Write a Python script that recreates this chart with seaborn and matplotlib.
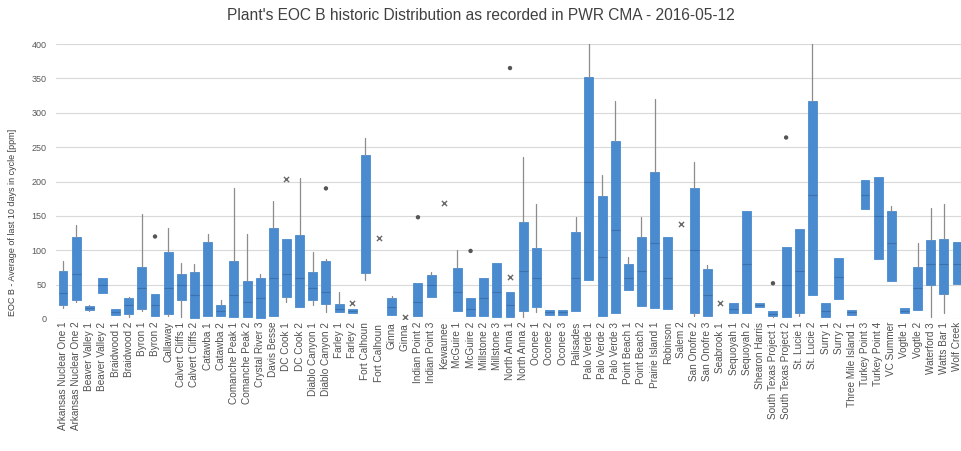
import matplotlib
matplotlib.use("Agg")
import matplotlib.pyplot as plt
import seaborn as sns
import pandas as pd

plants = [
    "Arkansas Nuclear One 1", "Arkansas Nuclear One 2", "Beaver Valley 1", "Beaver Valley 2",
    "Braidwood 1", "Braidwood 2", "Byron 1", "Byron 2", "Callaway", "Calvert Cliffs 1",
    "Calvert Cliffs 2", "Catawba 1", "Catawba 2", "Comanche Peak 1", "Comanche Peak 2",
    "Crystal River 3", "Davis Besse", "DC Cook 1", "DC Cook 2", "Diablo Canyon 1",
    "Diablo Canyon 2", "Farley 1", "Farley 2", "Fort Calhoun", "Fort Calhoun ",
    "Ginna", "Ginna ", "Indian Point 2", "Indian Point 3", "Kewaunee", "McGuire 1",
    "McGuire 2", "Millstone 2", "Millstone 3", "North Anna 1", "North Anna 2", "Oconee 1",
    "Oconee 2", "Oconee 3", "Palisades", "Palo Verde 1", "Palo Verde 2", "Palo Verde 3",
    "Point Beach 1", "Point Beach 2", "Prairie Island 1", "Robinson", "Salem 2",
    "San Onofre 2", "San Onofre 3", "Seabrook 1", "Sequoyah 1", "Sequoyah 2",
    "Shearon Harris", "South Texas Project 1", "South Texas Project 2", "St. Lucie 1",
    "St. Lucie 2", "Surry 1", "Surry 2", "Three Mile Island 1", "Turkey Point 3",
    "Turkey Point 4", "VC Summer", "Vogtle 1", "Vogtle 2", "Waterford 3", "Watts Bar 1",
    "Wolf Creek",
]

# five-number summaries (ppm); None where the plant has a single value only
whisker_low = [16, 25, 12, 38, 6, 3, 12, 5, 5, 3, 2, 5, 5, 3, 3, 2, 5, 25, 18, 20, 10, 10, 9,
               57, None, 6, None, 4, 32, None, 12, 4, 4, 3, 3, 3, 10, 6, 6, 12, 57, 5, 9, 42,
               19, 16, 15, None, 5, 5, None, 9, 9, 17, 3, 3, 5, 35, 3, 29, 6, 160, 87, 56, 9,
               13, 3, 9, 51]
q1 = [20, 28, 13, 38, 6, 8, 14, 5, 8, 28, 2, 5, 5, 3, 3, 2, 5, 32, 18, 28, 22, 10, 9,
      67, None, 6, None, 4, 32, None, 12, 4, 4, 3, 3, 12, 17, 6, 6, 12, 57, 5, 9, 42,
      19, 16, 15, None, 9, 5, None, 9, 9, 17, 4, 3, 9, 35, 3, 29, 6, 160, 87, 56, 9,
      13, 49, 37, 51]
median = [38, 65, 16, 50, 10, 20, 45, 20, 45, 50, 35, 50, 12, 35, 25, 30, 60, 65, 60, 45, 40, 15, 12,
          150, None, 18, None, 25, 50, None, 40, 15, 30, 40, 20, 70, 60, 10, 10, 60, 200, 90, 130, 60,
          70, 110, 60, None, 100, 35, None, 15, 80, 20, 7, 50, 70, 180, 12, 61, 10, 180, 150, 110, 12,
          45, 80, 80, 80]
q3 = [70, 120, 19, 60, 15, 30, 75, 37, 97, 65, 68, 112, 20, 85, 55, 60, 132, 117, 122, 68, 85, 22, 15,
      238, None, 31, None, 52, 64, None, 74, 31, 60, 81, 39, 141, 103, 13, 13, 127, 352, 179, 259, 80,
      120, 214, 120, None, 191, 73, None, 23, 157, 24, 11, 105, 131, 317, 24, 89, 13, 202, 206, 157, 16,
      76, 115, 116, 112]
whisker_high = [84, 137, 20, 60, 15, 32, 153, 37, 132, 82, 80, 123, 28, 190, 123, 65, 172, 117, 205, 98,
                88, 40, 15, 263, None, 33, None, 52, 69, None, 100, 31, 60, 81, 39, 236, 168, 13, 13,
                149, 405, 209, 317, 90, 149, 320, 120, None, 229, 79, None, 23, 157, 24, 11, 105, 131,
                405, 24, 89, 13, 202, 206, 165, 16, 110, 162, 168, 112]

# points beyond the whiskers
outlier_plants = ["Byron 2", "Diablo Canyon 2", "Indian Point 2", "McGuire 2", "North Anna 1",
                  "South Texas Project 1", "South Texas Project 2"]
outlier_values = [120, 190, 148, 99, 365, 52, 264]

# isolated values drawn with a cross
cross_plants = ["DC Cook 1", "Farley 2", "Fort Calhoun ", "Ginna ", "Kewaunee", "North Anna 1",
                "Salem 2", "Seabrook 1"]
cross_values = [204, 24, 118, 3, 169, 61, 138, 24]

BLUE = "#4A8ACF"
GRID = "#D9D9D9"
TEXT = "#595959"

sns.set_theme(style="whitegrid")
plt.rcParams["font.family"] = ["Liberation Sans", "DejaVu Sans"]

fig = plt.figure(figsize=(9.61, 4.51), dpi=100)
ax = fig.add_axes([56.4 / 961, 132 / 451, 907.2 / 961, 275 / 451])

pos = {p: i for i, p in enumerate(plants)}
stats, positions = [], []
for i, p in enumerate(plants):
    if q1[i] is None:
        continue
    stats.append(dict(label=p, q1=q1[i], med=median[i], q3=q3[i],
                      whislo=whisker_low[i], whishi=whisker_high[i], fliers=[]))
    positions.append(i)

ax.bxp(stats, positions=positions, widths=0.68, patch_artist=True, showfliers=False,
       manage_ticks=False,
       boxprops=dict(facecolor=BLUE, edgecolor=BLUE, linewidth=0.6),
       whiskerprops=dict(color="#8C8C8C", linewidth=0.9),
       capprops=dict(linewidth=0),
       medianprops=dict(color="#3A72B0", linewidth=0.8))

pts = pd.DataFrame({"x": [pos[p] for p in outlier_plants], "y": outlier_values})
sns.scatterplot(data=pts, x="x", y="y", ax=ax, marker="o", s=10, color="#555555",
                edgecolor="none", zorder=4)
crs = pd.DataFrame({"x": [pos[p] for p in cross_plants], "y": cross_values})
sns.scatterplot(data=crs, x="x", y="y", ax=ax, marker="x", s=14, color="#6B6B6B",
                linewidth=1.0, zorder=4)

ax.set_xlim(-0.5, len(plants) - 0.5)
ax.set_ylim(0, 400)
ax.set_yticks(range(0, 401, 50))
ax.set_xticks(range(len(plants)))
ax.set_xticklabels(plants, rotation=90, fontsize=7.2, color="#505050")
ax.tick_params(axis="y", labelsize=6.5, colors=TEXT, length=0, pad=7)
ax.tick_params(axis="x", length=0, pad=2)
ax.grid(axis="y", color=GRID, linewidth=0.8)
ax.grid(axis="x", visible=False)
for s in ax.spines.values():
    s.set_visible(False)
ax.set_xlabel("")
ax.set_ylabel("EOC B - Average of last 10 days in cycle [ppm]", fontsize=6.5, color="#404040")
ax.yaxis.set_label_coords(-0.0434, 0.353)

fig.text(0.5, 1 - 15 / 451, "Plant's EOC B historic Distribution as recorded in PWR CMA - 2016-05-12",
         ha="center", va="center", fontsize=11.2, color="#404040")

fig.savefig("out.png", dpi=100, facecolor="white")
